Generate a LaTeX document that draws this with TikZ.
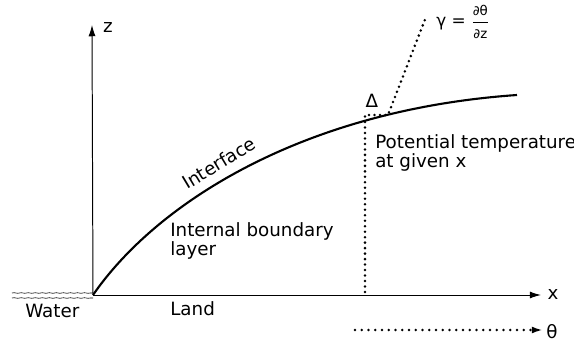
\documentclass[tikz,border=0pt]{standalone}
\usepackage{amsmath}
\usepackage{fontspec}
\setmainfont{DejaVu Sans}
\usetikzlibrary{arrows.meta, decorations.pathmorphing}

\newcommand{\fracpart}[1]{\text{\fontsize{9.5}{9.5}\selectfont #1}}

\begin{document}
\begin{tikzpicture}[x=0.025cm, y=-0.025cm,
    axis/.style={-{Latex[length=8pt, width=5pt]}, line width=0.7pt},
    iface/.style={line width=1.5pt},
    dots/.style={line width=2pt, line cap=round, dash pattern=on 0pt off 3.9pt},
    water/.style={line width=0.4pt, decorate, decoration={snake, amplitude=0.2pt, segment length=5pt}},
    lbl/.style={font=\fontsize{13}{13.5}\selectfont, inner sep=0pt},
    small/.style={font=\fontsize{12}{13}\selectfont, inner sep=0pt}]
    \useasboundingbox (0,0) rectangle (574,342);

    % axes
    \coordinate (O) at (93,295);
    \coordinate (ztip) at (92,25);
    \coordinate (xtip) at (541,295);
    \draw[axis] (O) -- (ztip);
    \draw[axis] (O) -- (xtip);
    \node[lbl] (zlab) at (108,28) {z};
    \node[lbl] (xlab) at (553,295) {x};

    % water surface
    \coordinate (w1) at (12,293); \coordinate (w1e) at (93,293);
    \coordinate (w2) at (12,298); \coordinate (w2e) at (93,298);
    \draw[water] (w1) -- (w1e);
    \draw[water] (w2) -- (w2e);
    \node[lbl, anchor=base west] (water) at (25,317) {Water};
    \node[lbl, anchor=base west] (land) at (170,315) {Land};

    % interface
    \coordinate (iend) at (517,95);
    \draw[iface] (O) .. controls (155,205) and (300,110) .. (iend);
    \node[lbl, rotate=31] (iface) at (219,163) {Interface};
    \node[lbl, anchor=base west, align=left] (ibl) at (170,255) {Internal boundary\\layer};

    % temperature profile
    \coordinate (p0) at (365,292);
    \coordinate (p1) at (365,115);
    \coordinate (p2) at (388,115);
    \coordinate (p3) at (426,17);
    \draw[dots] (p0) -- (p1) -- (p2) -- (p3);
    \node[lbl] (delta) at (372,101) {Δ};
    \node[small, anchor=west] (gamma) at (436,22) {γ = $\dfrac{\fracpart{∂θ}}{\fracpart{∂z}}$};
    \node[lbl, anchor=base west, align=left] (ptemp) at (375,167) {Potential temperature\\at given x};

    % theta axis
    \coordinate (th0) at (355,330);
    \coordinate (th1) at (543,330);
    \draw[dots, dash pattern=on 0pt off 4.8pt, -{Latex[length=8pt, width=5pt]}] (th0) -- (th1);
    \node[lbl] (thlab) at (552,332) {θ};
\end{tikzpicture}
\end{document}
